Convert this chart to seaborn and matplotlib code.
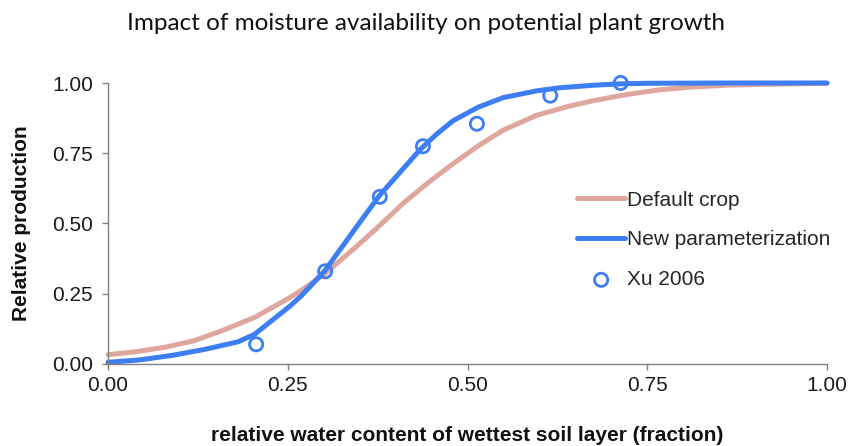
import matplotlib
matplotlib.use("Agg")
import matplotlib.pyplot as plt
import seaborn as sns
import pandas as pd

# Default crop response curve
water_default = [0.000, 0.040, 0.080, 0.120, 0.160, 0.204, 0.250, 0.269, 0.300,
                 0.3456, 0.383, 0.4105, 0.4476, 0.480, 0.517, 0.5496, 0.596, 0.642,
                 0.675, 0.721, 0.768, 0.814, 0.860, 0.907, 0.950, 1.000]
prod_default = [0.033, 0.044, 0.060, 0.083, 0.120, 0.166, 0.232, 0.262, 0.318,
                0.418, 0.505, 0.572, 0.650, 0.713, 0.780, 0.832, 0.885, 0.918,
                0.937, 0.959, 0.976, 0.986, 0.992, 0.995, 0.997, 0.999]

# New parameterization curve
water_new = [0.000, 0.042, 0.088, 0.1345, 0.181, 0.204, 0.253, 0.269, 0.3015, 0.3456,
             0.377, 0.4105, 0.4337, 0.457, 0.480, 0.515, 0.5496, 0.596, 0.628,
             0.675, 0.712, 0.750, 0.850, 1.000]
prod_new = [0.006, 0.014, 0.030, 0.052, 0.079, 0.106, 0.206, 0.243, 0.332, 0.488,
            0.598, 0.695, 0.762, 0.818, 0.866, 0.914, 0.948, 0.972, 0.983,
            0.992, 0.997, 0.999, 1.000, 1.000]

# Observations (Xu 2006)
xu_water = [0.206, 0.302, 0.378, 0.438, 0.513, 0.615, 0.713]
xu_prod = [0.070, 0.330, 0.595, 0.775, 0.855, 0.955, 1.000]

x_ticks = [0.00, 0.25, 0.50, 0.75, 1.00]
y_ticks = [0.00, 0.25, 0.50, 0.75, 1.00]

PINK = "#dfa69d"
BLUE = "#3d7ef4"

sns.set_theme(style="white")
plt.rcParams["font.family"] = ["Liberation Sans", "DejaVu Sans"]

fig = plt.figure(figsize=(8.52, 4.46), dpi=100)
ax = fig.add_axes([0.1268, 0.1839, 0.8439, 0.6300])

df_default = pd.DataFrame({"x": water_default, "y": prod_default})
df_new = pd.DataFrame({"x": water_new, "y": prod_new})
df_xu = pd.DataFrame({"x": xu_water, "y": xu_prod})

sns.lineplot(data=df_default, x="x", y="y", color=PINK, linewidth=3.6,
             ax=ax, label="Default crop", clip_on=False)
sns.lineplot(data=df_new, x="x", y="y", color=BLUE, linewidth=3.6,
             ax=ax, label="New parameterization", clip_on=False)
sns.scatterplot(data=df_xu, x="x", y="y", marker="o", s=90, facecolor="none",
                edgecolor=BLUE, linewidth=2.0, ax=ax, label="Xu 2006",
                clip_on=False, zorder=5)

for line in ax.get_lines():
    line.set_solid_capstyle("round")
    line.set_solid_joinstyle("round")

ax.set_xlim(0, 1)
ax.set_ylim(0, 1)
ax.set_xticks(x_ticks)
ax.set_yticks(y_ticks)
ax.set_xticklabels([f"{v:.2f}" for v in x_ticks])
ax.set_yticklabels([f"{v:.2f}" for v in y_ticks])

for side in ("top", "right"):
    ax.spines[side].set_visible(False)
for side in ("left", "bottom"):
    ax.spines[side].set_color("#808080")
    ax.spines[side].set_linewidth(1.0)

ax.tick_params(axis="both", which="major", direction="out", length=4,
               width=1.0, color="#808080", labelsize=15, labelcolor="#1a1a1a")
ax.tick_params(axis="y", pad=7, left=True)
ax.tick_params(axis="x", pad=5, bottom=True)

ax.set_xlabel("relative water content of wettest soil layer (fraction)",
              fontsize=15, fontweight="bold", labelpad=22, color="#111111")
ax.set_ylabel("Relative production", fontsize=15, fontweight="bold",
              labelpad=15, color="#111111")

fig.text(0.5, 0.948, "Impact of moisture availability on potential plant growth",
         ha="center", va="center", fontsize=17.5, family=["Lato", "DejaVu Sans"],
         color="#111111")

ax.legend(loc="upper left", bbox_to_anchor=(0.6525, 0.617), frameon=False,
          fontsize=15, handlelength=2.3, handletextpad=0.1, labelspacing=1.0,
          borderaxespad=0, borderpad=0)

fig.savefig("out.png", dpi=100)
